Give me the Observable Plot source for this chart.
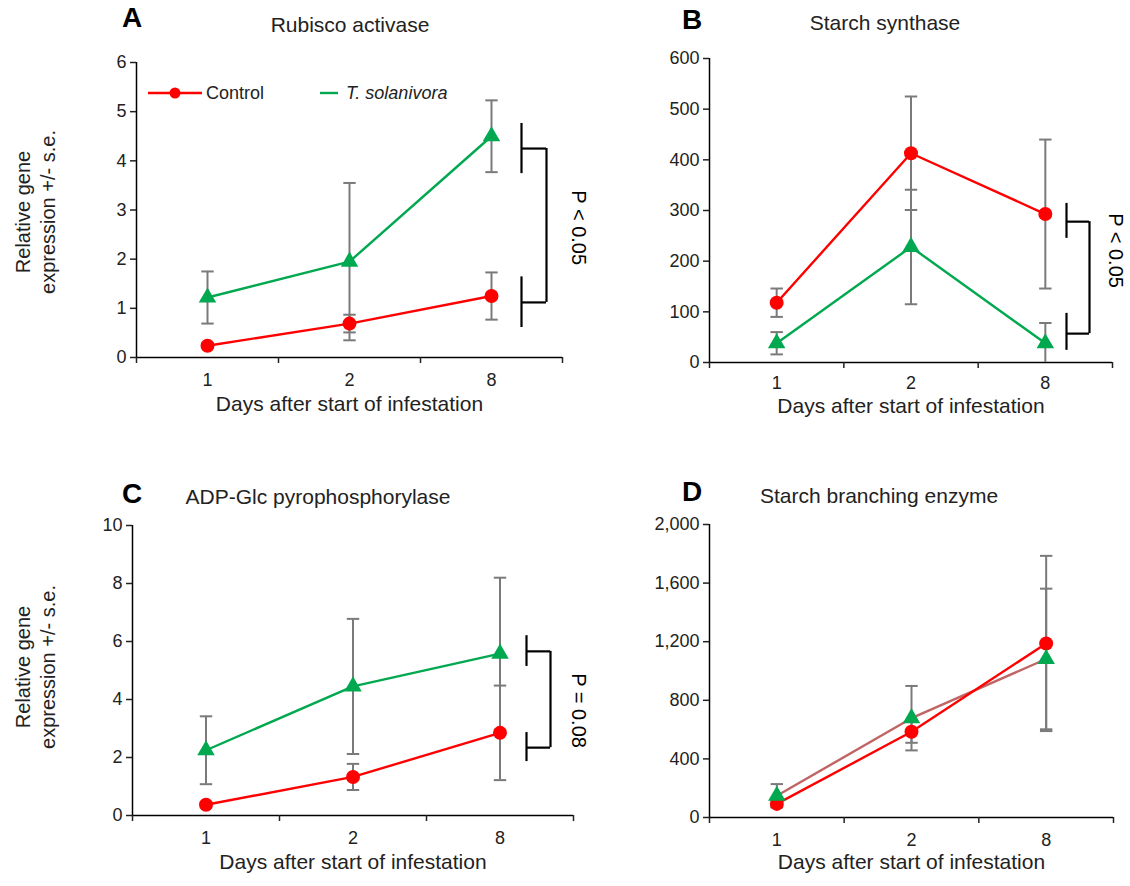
<!DOCTYPE html>
<html>
<head>
<meta charset="utf-8">
<script src="https://cdn.jsdelivr.net/npm/d3@7"></script>
<script src="https://cdn.jsdelivr.net/npm/@observablehq/plot@0.6"></script>
<style>
  html, body { margin: 0; padding: 0; background: #fff; }
  body { width: 1130px; height: 886px; position: relative; overflow: hidden;
         font-family: "Liberation Sans", Arial, sans-serif; color: #222; }
  .abs { position: absolute; white-space: nowrap; }
  .letter { font-weight: bold; font-size: 28px; color: #000; }
  .title { font-size: 21px; transform: translate(-50%, -50%); }
  .ylab { font-size: 20px; text-align: center; line-height: 25px; width: 220px; height: 50px;
          transform: rotate(-90deg); transform-origin: 50% 50%; }
  .panel { position: absolute; }
</style>
</head>
<body>
<script>
// ---------- data ----------
const days = ["1", "2", "8"];
const xLabel = "Days after start of infestation";

// Panel A: Rubisco activase
const ctrlA = [0.24, 0.69, 1.25];
const ctrlSeA = [0.05, 0.18, 0.48];
const solA = [1.22, 1.95, 4.50];
const solSeA = [0.53, 1.60, 0.73];
const yTicksA = [0, 1, 2, 3, 4, 5, 6];
const brLoA = [3.74, 0.61], brHiA = [4.76, 1.64], brJoinA = [4.25, 1.12];
const pTextA = "P < 0.05", pYA = 2.64;

// Panel B: Starch synthase
const ctrlB = [118, 413, 293];
const ctrlSeB = [28, 112, 147];
const solB = [38, 228, 38];
const solSeB = [22, 113, 40];
const yTicksB = [0, 100, 200, 300, 400, 500, 600];
const brLoB = [245, 24], brHiB = [314, 97], brJoinB = [278, 57];
const pTextB = "P < 0.05", pYB = 221;

// Panel C: ADP-Glc pyrophosphorylase
const ctrlC = [0.37, 1.33, 2.85];
const ctrlSeC = [0.10, 0.45, 1.63];
const solC = [2.25, 4.45, 5.58];
const solSeC = [1.17, 2.33, 2.62];
const yTicksC = [0, 2, 4, 6, 8, 10];
const brLoC = [5.14, 1.86], brHiC = [6.20, 2.86], brJoinC = [5.66, 2.34];
const pTextC = "P = 0.08", pYC = 3.62;

// Panel D: Starch branching enzyme
const ctrlD = [93, 585, 1188];
const ctrlSeD = [20, 75, 598];
const solD = [148, 678, 1082];
const solSeD = [80, 220, 480];
const yTicksD = [0, 400, 800, 1200, 1600, 2000];

const RED = "#ff0000", GREEN = "#00a84f", ERR = "#7a7a7a";

// ---------- helpers ----------
const capSymbol = {
  draw(context, size) {
    const w = Math.sqrt(size);
    context.moveTo(-w, 0);
    context.lineTo(w, 0);
  }
};

function rows(vals, ses) {
  return vals.map((v, i) => ({x: i + 0.5, y: v, lo: Math.max(0, v - ses[i]), hi: v + ses[i]}));
}

function panel(cfg) {
  const {left, top, width, height, ml, mr, mt, mb, yTicks, yFormat,
         ctrl, ctrlSe, sol, solSe, solLine, tickPad, xLabelDy, bracket} = cfg;
  const c = rows(ctrl, ctrlSe), s = rows(sol, solSe);
  const all = c.concat(s);
  const bw = (width - ml - mr) / 3;
  const marks = [
    Plot.ruleY([yTicks[0]], {stroke: "#000", strokeWidth: 1.5}),
    Plot.ruleX([0], {stroke: "#000", strokeWidth: 1.5}),
    Plot.axisY({ticks: yTicks, tickSize: 6, tickPadding: 4, tickFormat: yFormat, label: null,
                strokeWidth: 1.5, fontSize: 18, fill: "#222"}),
    Plot.axisX({ticks: [0, 1, 2, 3], tickSize: 6, tickFormat: () => "", label: null, strokeWidth: 1.5}),
    Plot.axisX({ticks: [0.5, 1.5, 2.5], tickSize: 0, tickPadding: tickPad,
                tickFormat: v => days[Math.floor(v)], label: null, fontSize: 18, fill: "#222"}),
    Plot.text([xLabel], {frameAnchor: "bottom", dy: xLabelDy, text: d => d, fontSize: 21, fill: "#222"}),
    // error bars
    Plot.ruleX(all, {x: "x", y1: "lo", y2: "hi", stroke: ERR, strokeWidth: 2}),
    Plot.dot(all, {x: "x", y: "hi", symbol: capSymbol, r: 3.5, stroke: ERR, strokeWidth: 2, fill: "none"}),
    Plot.dot(all.filter(d => d.lo > 0), {x: "x", y: "lo", symbol: capSymbol, r: 3.5, stroke: ERR, strokeWidth: 2, fill: "none"}),
    // lines
    Plot.line(s, {x: "x", y: "y", stroke: solLine, strokeWidth: 2.4}),
    Plot.line(c, {x: "x", y: "y", stroke: RED, strokeWidth: 2.4}),
    // markers
    Plot.dot(c, {x: "x", y: "y", r: 7, fill: RED, stroke: "none"}),
    Plot.dot(s, {x: "x", y: "y", r: 6.5, symbol: "triangle", fill: GREEN, stroke: "none"})
  ];
  if (bracket) {
    const {lo, hi, join, barDx, joinDx, text, textY, textDx} = bracket;
    marks.push(
      Plot.ruleX(lo.map((l, i) => ({l, h: hi[i]})), {x: 3, y1: "l", y2: "h", dx: barDx, stroke: "#000", strokeWidth: 2.2}),
      Plot.ruleY(join, {y: d => d, x1: 2, x2: 3, insetLeft: bw + barDx, insetRight: -joinDx, stroke: "#000", strokeWidth: 2.2}),
      Plot.ruleX([join], {x: 3, y1: d => d[0], y2: d => d[1], dx: joinDx, stroke: "#000", strokeWidth: 2.2}),
      Plot.text([text], {x: 3, y: textY, dx: textDx, rotate: 90, text: d => d, fontSize: 20, fill: "#000"})
    );
  }
  const svg = Plot.plot({
    width, height,
    marginLeft: ml, marginRight: mr, marginTop: mt, marginBottom: mb,
    x: {type: "linear", domain: [0, 3]},
    y: {domain: [yTicks[0], yTicks[yTicks.length - 1]]},
    style: {fontSize: "18px", fontFamily: "'Liberation Sans', Arial, sans-serif", color: "#222", background: "transparent", overflow: "visible"},
    marks
  });
  svg.classList.add("panel");
  svg.style.left = left + "px";
  svg.style.top = top + "px";
  document.body.appendChild(svg);
}

function addText(cls, txt, x, y, extra) {
  const d = document.createElement("div");
  d.className = "abs " + cls;
  d.innerHTML = txt;
  d.style.left = x + "px";
  d.style.top = y + "px";
  if (extra) Object.assign(d.style, extra);
  document.body.appendChild(d);
  return d;
}

// ---------- panels ----------
panel({left: 80, top: 40, width: 540, height: 390, ml: 56, mr: 58, mt: 22, mb: 73,
  yTicks: yTicksA, yFormat: d3.format("d"), ctrl: ctrlA, ctrlSe: ctrlSeA, sol: solA, solSe: solSeA,
  solLine: GREEN, tickPad: 16, xLabelDy: 53,
  bracket: {lo: brLoA, hi: brHiA, join: brJoinA, barDx: -41, joinDx: -16, text: pTextA, textY: pYA, textDx: 16}});

panel({left: 640, top: 36, width: 490, height: 394, ml: 69, mr: 18, mt: 22, mb: 68,
  yTicks: yTicksB, yFormat: d3.format("d"), ctrl: ctrlB, ctrlSe: ctrlSeB, sol: solB, solSe: solSeB,
  solLine: GREEN, tickPad: 14, xLabelDy: 50,
  bracket: {lo: brLoB, hi: brHiB, join: brJoinB, barDx: -46, joinDx: -23, text: pTextB, textY: pYB, textDx: 3}});

panel({left: 60, top: 500, width: 560, height: 386, ml: 72, mr: 47, mt: 25, mb: 71,
  yTicks: yTicksC, yFormat: d3.format("d"), ctrl: ctrlC, ctrlSe: ctrlSeC, sol: solC, solSe: solSeC,
  solLine: GREEN, tickPad: 16, xLabelDy: 53,
  bracket: {lo: brLoC, hi: brHiC, join: brJoinC, barDx: -47, joinDx: -23, text: pTextC, textY: pYC, textDx: 5}});

panel({left: 640, top: 500, width: 490, height: 386, ml: 69, mr: 17, mt: 24, mb: 69,
  yTicks: yTicksD, yFormat: d3.format(","), ctrl: ctrlD, ctrlSe: ctrlSeD, sol: solD, solSe: solSeD,
  solLine: "#c06464", tickPad: 16, xLabelDy: 51, bracket: null});

// ---------- letters & titles ----------
addText("letter", "A", 122, 2);
addText("title", "Rubisco activase", 350, 25);
addText("letter", "B", 682, 4);
addText("title", "Starch synthase", 885, 23);
addText("letter", "C", 122, 478);
addText("title", "ADP-Glc pyrophosphorylase", 318, 497);
addText("letter", "D", 682, 476);
addText("title", "Starch branching enzyme", 879, 496);

// y labels
addText("ylab", "Relative gene<br>expression +/- s.e.", 36 - 110, 212 - 25);
addText("ylab", "Relative gene<br>expression +/- s.e.", 36 - 110, 667 - 25);

// ---------- legend (panel A) ----------
const leg = document.createElement("div");
leg.className = "abs";
leg.style.left = "140px";
leg.style.top = "80px";
leg.innerHTML = `
<svg width="330" height="28" style="position:absolute;left:0;top:0;overflow:visible">
  <line x1="8" y1="13" x2="62" y2="13" stroke="${RED}" stroke-width="2.4"/>
  <circle cx="35" cy="13" r="5.5" fill="${RED}"/>
  <text x="66" y="13" dy="0.35em" font-size="18" fill="#222" font-family="Liberation Sans, Arial, sans-serif">Control</text>
  <line x1="180" y1="13" x2="198" y2="13" stroke="${GREEN}" stroke-width="2.4"/>
  <text x="206" y="13" dy="0.35em" font-size="18" font-style="italic" fill="#222" font-family="Liberation Sans, Arial, sans-serif">T. solanivora</text>
</svg>`;
document.body.appendChild(leg);
</script>
</body>
</html>
